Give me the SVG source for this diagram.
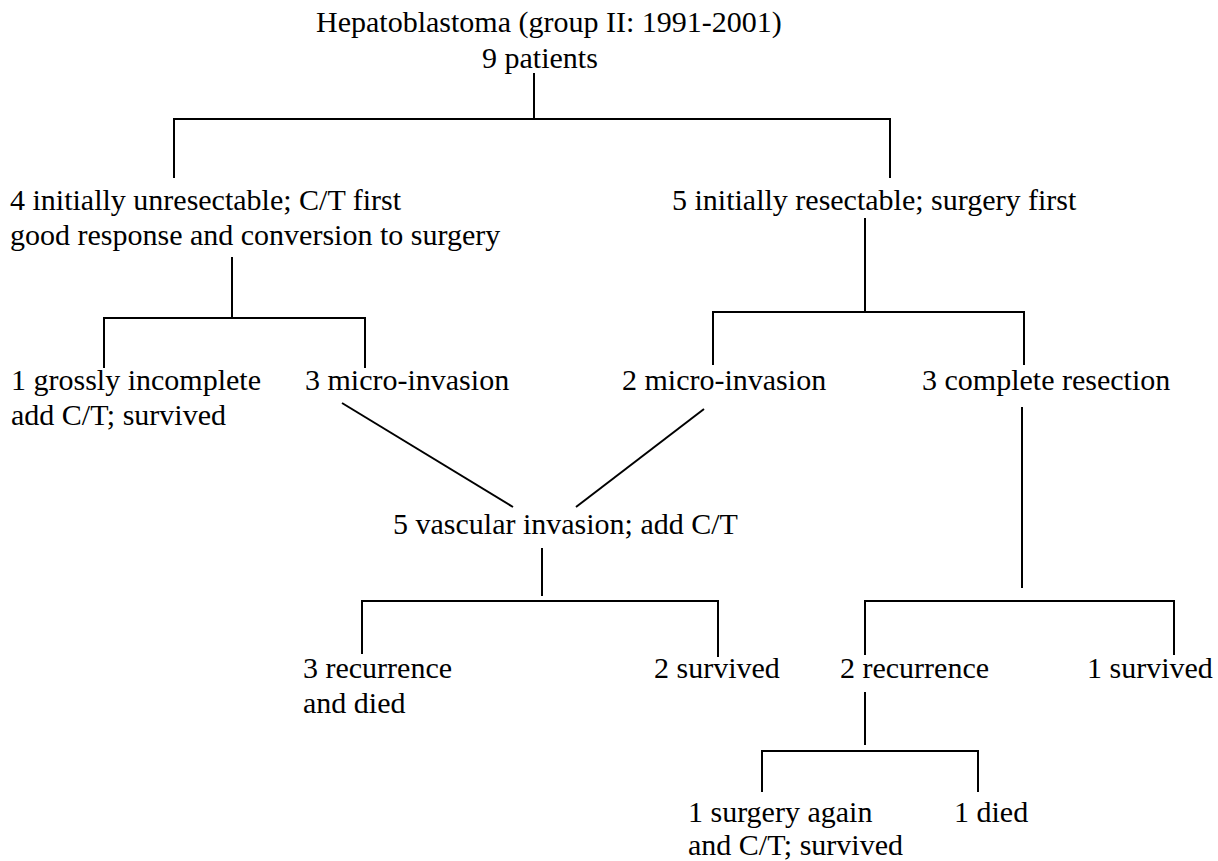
<svg xmlns="http://www.w3.org/2000/svg" width="1218" height="861" viewBox="0 0 1218 861">
<style>
.c line,.c polyline{stroke:#000;stroke-width:2;fill:none}
</style>
<rect width="1218" height="861" fill="#fff"/>
<g class="c" id="connectors">
<line x1="534" y1="73" x2="534" y2="119"/>
<polyline points="174,178 174,119 890,119 890,178"/>
<line x1="232" y1="257" x2="232" y2="318"/>
<polyline points="104,368 104,318 365,318 365,368"/>
<line x1="865" y1="218" x2="865" y2="312"/>
<polyline points="713,365 713,312 1024,312 1024,365"/>
<line x1="342" y1="403" x2="513" y2="507"/>
<line x1="704" y1="409" x2="576" y2="507"/>
<line x1="542" y1="548" x2="542" y2="596"/>
<polyline points="362,654 362,601 718,601 718,657"/>
<line x1="1022" y1="407" x2="1022" y2="588"/>
<polyline points="865,655 865,601 1174,601 1174,655"/>
<line x1="865" y1="692" x2="865" y2="745"/>
<polyline points="762,792 762,751 978,751 978,792"/>
</g>
<g font-family="'Liberation Serif', serif" font-size="30" fill="#000">
<g id="root"><text x="316" y="32">Hepatoblastoma (group II: 1991-2001)</text><text x="482" y="68">9 patients</text></g>
<g id="unresectable"><text x="10" y="210">4 initially unresectable; C/T first</text><text x="10" y="245">good response and conversion to surgery</text></g>
<g id="resectable"><text x="672" y="210">5 initially resectable; surgery first</text></g>
<g id="grossly-incomplete"><text x="11" y="390">1 grossly incomplete</text><text x="11" y="425">add C/T; survived</text></g>
<g id="micro-invasion-3"><text x="305" y="390">3 micro-invasion</text></g>
<g id="micro-invasion-2"><text x="622" y="390">2 micro-invasion</text></g>
<g id="complete-resection"><text x="922" y="390">3 complete resection</text></g>
<g id="vascular-invasion"><text x="393" y="534">5 vascular invasion; add C/T</text></g>
<g id="recurrence-died"><text x="303" y="678">3 recurrence</text><text x="303" y="713">and died</text></g>
<g id="survived-2"><text x="654" y="678">2 survived</text></g>
<g id="recurrence-2"><text x="840" y="678">2 recurrence</text></g>
<g id="survived-1"><text x="1087" y="678">1 survived</text></g>
<g id="surgery-again"><text x="688" y="822">1 surgery again</text><text x="688" y="855">and C/T; survived</text></g>
<g id="died-1"><text x="954" y="822">1 died</text></g>
</g>
</svg>
